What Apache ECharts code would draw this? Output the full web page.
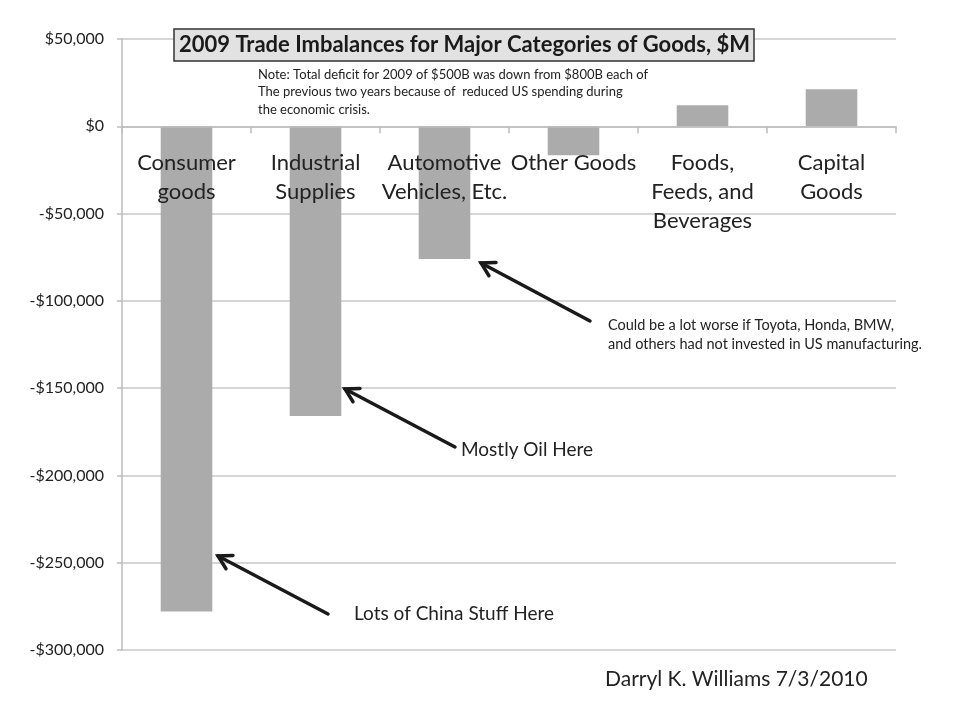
<!DOCTYPE html>
<html>
<head>
<meta charset="utf-8">
<script src="https://cdn.jsdelivr.net/npm/echarts@6/dist/echarts.min.js"></script>
<style>
html,body{margin:0;padding:0;background:#fff;}
#chart{width:960px;height:720px;}
</style>
</head>
<body>
<div id="chart"></div>
<script>
var categories = ["Consumer\ngoods", "Industrial\nSupplies", "Automotive\nVehicles, Etc.", "Other Goods", "Foods,\nFeeds, and\nBeverages", "Capital\nGoods"];
var balances = [-278000, -166000, -76000, -16600, 12000, 21200];
var yTicks = { min: -300000, max: 50000, interval: 50000 };

var titleText = "2009 Trade Imbalances for Major Categories of Goods, $M";
var noteText = "Note: Total deficit for 2009 of $500B was down from $800B each of\nThe previous two years because of  reduced US spending during\nthe economic crisis.";
var autoNote = "Could be a lot worse if Toyota, Honda, BMW,\nand others had not invested in US manufacturing.";
var oilNote = "Mostly Oil Here";
var chinaNote = "Lots of China Stuff Here";
var signature = "Darryl K. Williams 7/3/2010";

var FONT = "Lato, 'Open Sans', sans-serif";
var TXT = "#222";

function fmt(v) {
  if (v === 0) return "$0";
  var s = Math.abs(v).toString().replace(/\B(?=(\d{3})+(?!\d))/g, ",");
  return (v < 0 ? "-$" : "$") + s;
}

function arrow(x1, y1, x2, y2) {
  var dx = x1 - x2, dy = y1 - y2;
  var len = Math.sqrt(dx * dx + dy * dy);
  var ux = dx / len, uy = dy / len;
  var L = 15, a = Math.PI / 6;
  var c = Math.cos(a), s = Math.sin(a);
  var p1 = [x2 + L * (ux * c - uy * s), y2 + L * (ux * s + uy * c)];
  var p2 = [x2 + L * (ux * c + uy * s), y2 + L * (-ux * s + uy * c)];
  var st = { stroke: "#1a1a1a", lineWidth: 3.5, lineCap: "round", lineJoin: "miter" };
  return [
    { type: "line", shape: { x1: x1, y1: y1, x2: x2, y2: y2 }, style: st, z: 100 },
    { type: "polyline", shape: { points: [p1, [x2, y2], p2] }, style: st, z: 100 }
  ];
}

var GRID = { left: 122, right: 64, top: 39, bottom: 70 };
var plotH = 720 - GRID.top - GRID.bottom;
var zeroOffset = -plotH * (0 - yTicks.min) / (yTicks.max - yTicks.min);

var graphics = [];
graphics.push({ type: "text", left: 258, top: 66, z: 100,
  style: { text: noteText, font: "13px " + FONT, fill: TXT, lineHeight: 17.5 } });
graphics.push({ type: "text", left: 608, top: 316, z: 100,
  style: { text: autoNote, font: "14.5px " + FONT, fill: TXT, lineHeight: 19 } });
graphics.push({ type: "text", left: 461, top: 440, z: 100,
  style: { text: oilNote, font: "19px " + FONT, fill: TXT } });
graphics.push({ type: "text", left: 354, top: 604, z: 100,
  style: { text: chinaNote, font: "19px " + FONT, fill: TXT } });
graphics.push({ type: "text", left: 605, top: 669, z: 100,
  style: { text: signature, font: "21px " + FONT, fill: TXT } });
graphics = graphics.concat(arrow(328, 614, 218, 556));
graphics = graphics.concat(arrow(455, 447, 345, 389));
graphics = graphics.concat(arrow(590, 321, 481, 263));

var chart = echarts.init(document.getElementById("chart"));
chart.setOption({
  backgroundColor: "#fff",
  animation: false,
  title: {
    text: titleText,
    left: 174, top: 29,
    padding: [4, 4, 4, 5],
    backgroundColor: "#e2e2e2",
    borderColor: "#333",
    borderWidth: 1.5,
    textStyle: { fontFamily: FONT, fontWeight: "bold", fontSize: 22, color: "#1a1a1a", lineHeight: 24 }
  },
  grid: { left: GRID.left, right: GRID.right, top: GRID.top, bottom: GRID.bottom, containLabel: false, outerBoundsMode: "none" },
  xAxis: {
    type: "category",
    data: categories,
    position: "bottom",
    offset: zeroOffset,
    z: 10,
    axisLine: { onZero: false, lineStyle: { color: "#bdbdbd", width: 1.5 } },
    axisTick: { show: true, length: 7, alignWithLabel: false, lineStyle: { color: "#bdbdbd", width: 1.5 } },
    axisLabel: { interval: 0, margin: 22, fontFamily: FONT, fontSize: 22, lineHeight: 29, color: TXT, verticalAlign: "top", hideOverlap: false },
    splitLine: { show: false }
  },
  yAxis: {
    type: "value",
    min: yTicks.min, max: yTicks.max, interval: yTicks.interval,
    axisLine: { show: true, lineStyle: { color: "#bdbdbd", width: 1.5 } },
    axisTick: { show: true, length: 5, lineStyle: { color: "#bdbdbd", width: 1.5 } },
    axisLabel: { margin: 18, fontFamily: FONT, fontSize: 16, color: TXT, formatter: fmt },
    splitLine: { show: true, lineStyle: { color: "#c8c8c8", width: 1.5 } }
  },
  series: [{
    type: "bar",
    data: balances,
    barCategoryGap: "60%",
    z: 2,
    itemStyle: { color: "#ababab" }
  }],
  graphic: graphics
});
</script>
</body>
</html>
